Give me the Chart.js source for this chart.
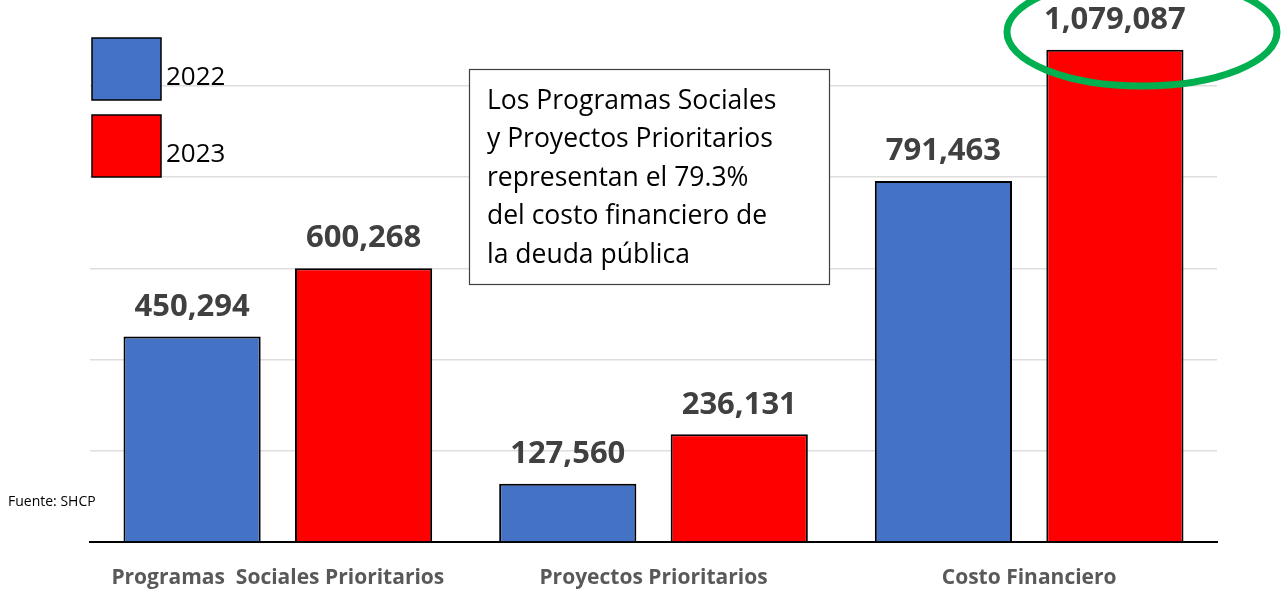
<!DOCTYPE html>
<html lang="es">
<head>
<meta charset="utf-8">
<script src="https://cdn.jsdelivr.net/npm/chart.js"></script>
<style>
  html, body { margin: 0; padding: 0; background: #fff; overflow: hidden; }
  #chart { display: block; }
</style>
</head>
<body>
<canvas id="chart" width="1283" height="592"></canvas>
<script>
// datos (millones de pesos)
const categorias = ['Programas  Sociales Prioritarios', 'Proyectos Prioritarios', 'Costo Financiero'];
const anios = ['2022', '2023'];
const valores2022 = [450294, 127560, 791463];
const valores2023 = [600268, 236131, 1079087];
const lineasY = [0, 200000, 400000, 600000, 800000, 1000000];
const nota = ['Los Programas Sociales', 'y Proyectos Prioritarios', 'representan el 79.3%', 'del costo financiero de', 'la deuda pública'];
const fuente = 'Fuente: SHCP';

const FONT = '"Open Sans", "Noto Sans", sans-serif';

// etiquetas de valor, leyenda, recuadro y el circulo verde
const extras = {
  id: 'extras',
  afterDatasetsDraw(chart) {
    const ctx = chart.ctx;
    ctx.save();
    ctx.fillStyle = '#404040';
    ctx.font = 'bold 31px ' + FONT;
    ctx.textAlign = 'center';
    ctx.textBaseline = 'bottom';
    chart.data.datasets.forEach((ds, i) => {
      chart.getDatasetMeta(i).data.forEach((bar, j) => {
        ctx.fillText(ds.data[j].toLocaleString('en-US'), bar.x, bar.y - 14);
      });
    });
    ctx.restore();
  },
  afterDraw(chart) {
    const ctx = chart.ctx;
    ctx.save();

    // leyenda
    chart.data.datasets.forEach((ds, i) => {
      const y = 38 + i * 77;
      ctx.fillStyle = ds.backgroundColor;
      ctx.fillRect(92, y, 69, 62);
      ctx.strokeStyle = '#000';
      ctx.lineWidth = 1.5;
      ctx.strokeRect(92, y, 69, 62);
      ctx.fillStyle = '#000';
      ctx.font = '26px ' + FONT;
      ctx.textAlign = 'left';
      ctx.textBaseline = 'alphabetic';
      ctx.fillText(ds.label, 166, y + 47);
    });

    // recuadro de texto
    ctx.fillStyle = '#fff';
    ctx.fillRect(469, 69, 360, 215);
    ctx.strokeStyle = '#404040';
    ctx.lineWidth = 1.2;
    ctx.strokeRect(469.5, 69.5, 360, 215);
    ctx.fillStyle = '#000';
    ctx.font = '26.5px ' + FONT;
    ctx.textBaseline = 'middle';
    nota.forEach((t, k) => ctx.fillText(t, 487, 101 + k * 38.5));

    // fuente
    ctx.font = '14px ' + FONT;
    ctx.fillText(fuente, 8, 502);

    // circulo verde
    ctx.strokeStyle = '#00B050';
    ctx.lineWidth = 7;
    ctx.beginPath();
    ctx.ellipse(1142, 32, 135, 54, 0, 0, Math.PI * 2);
    ctx.stroke();
    ctx.restore();
  }
};

new Chart(document.getElementById('chart'), {
  type: 'bar',
  data: {
    labels: categorias,
    datasets: [
      { label: anios[0], data: valores2022, backgroundColor: '#4472C4', borderColor: '#000', borderWidth: 2, borderSkipped: 'bottom' },
      { label: anios[1], data: valores2023, backgroundColor: '#FF0000', borderColor: '#000', borderWidth: 2, borderSkipped: 'bottom' }
    ]
  },
  options: {
    responsive: false,
    animation: false,
    devicePixelRatio: 1,
    categoryPercentage: 0.913,
    barPercentage: 0.8,
    layout: { padding: { left: 90, right: 66, top: 0, bottom: 0 } },
    plugins: { legend: { display: false }, tooltip: { enabled: false } },
    scales: {
      x: {
        grid: { display: false },
        border: { color: '#000', width: 2 },
        ticks: { color: '#595959', font: { family: FONT, size: 21, weight: 'bold' }, padding: 15 },
        afterFit: s => { s.height = 50; }
      },
      y: {
        min: 0,
        max: 1188000,
        afterFit: s => { s.width = 0; },
        afterBuildTicks: s => { s.ticks = lineasY.map(v => ({ value: v })); },
        border: { display: false },
        ticks: { display: false },
        grid: {
          drawTicks: false,
          color: c => (c.tick && c.tick.value > 0) ? '#dedede' : 'rgba(0,0,0,0)',
          lineWidth: 1.5
        }
      }
    }
  },
  plugins: [extras]
});
</script>
</body>
</html>
